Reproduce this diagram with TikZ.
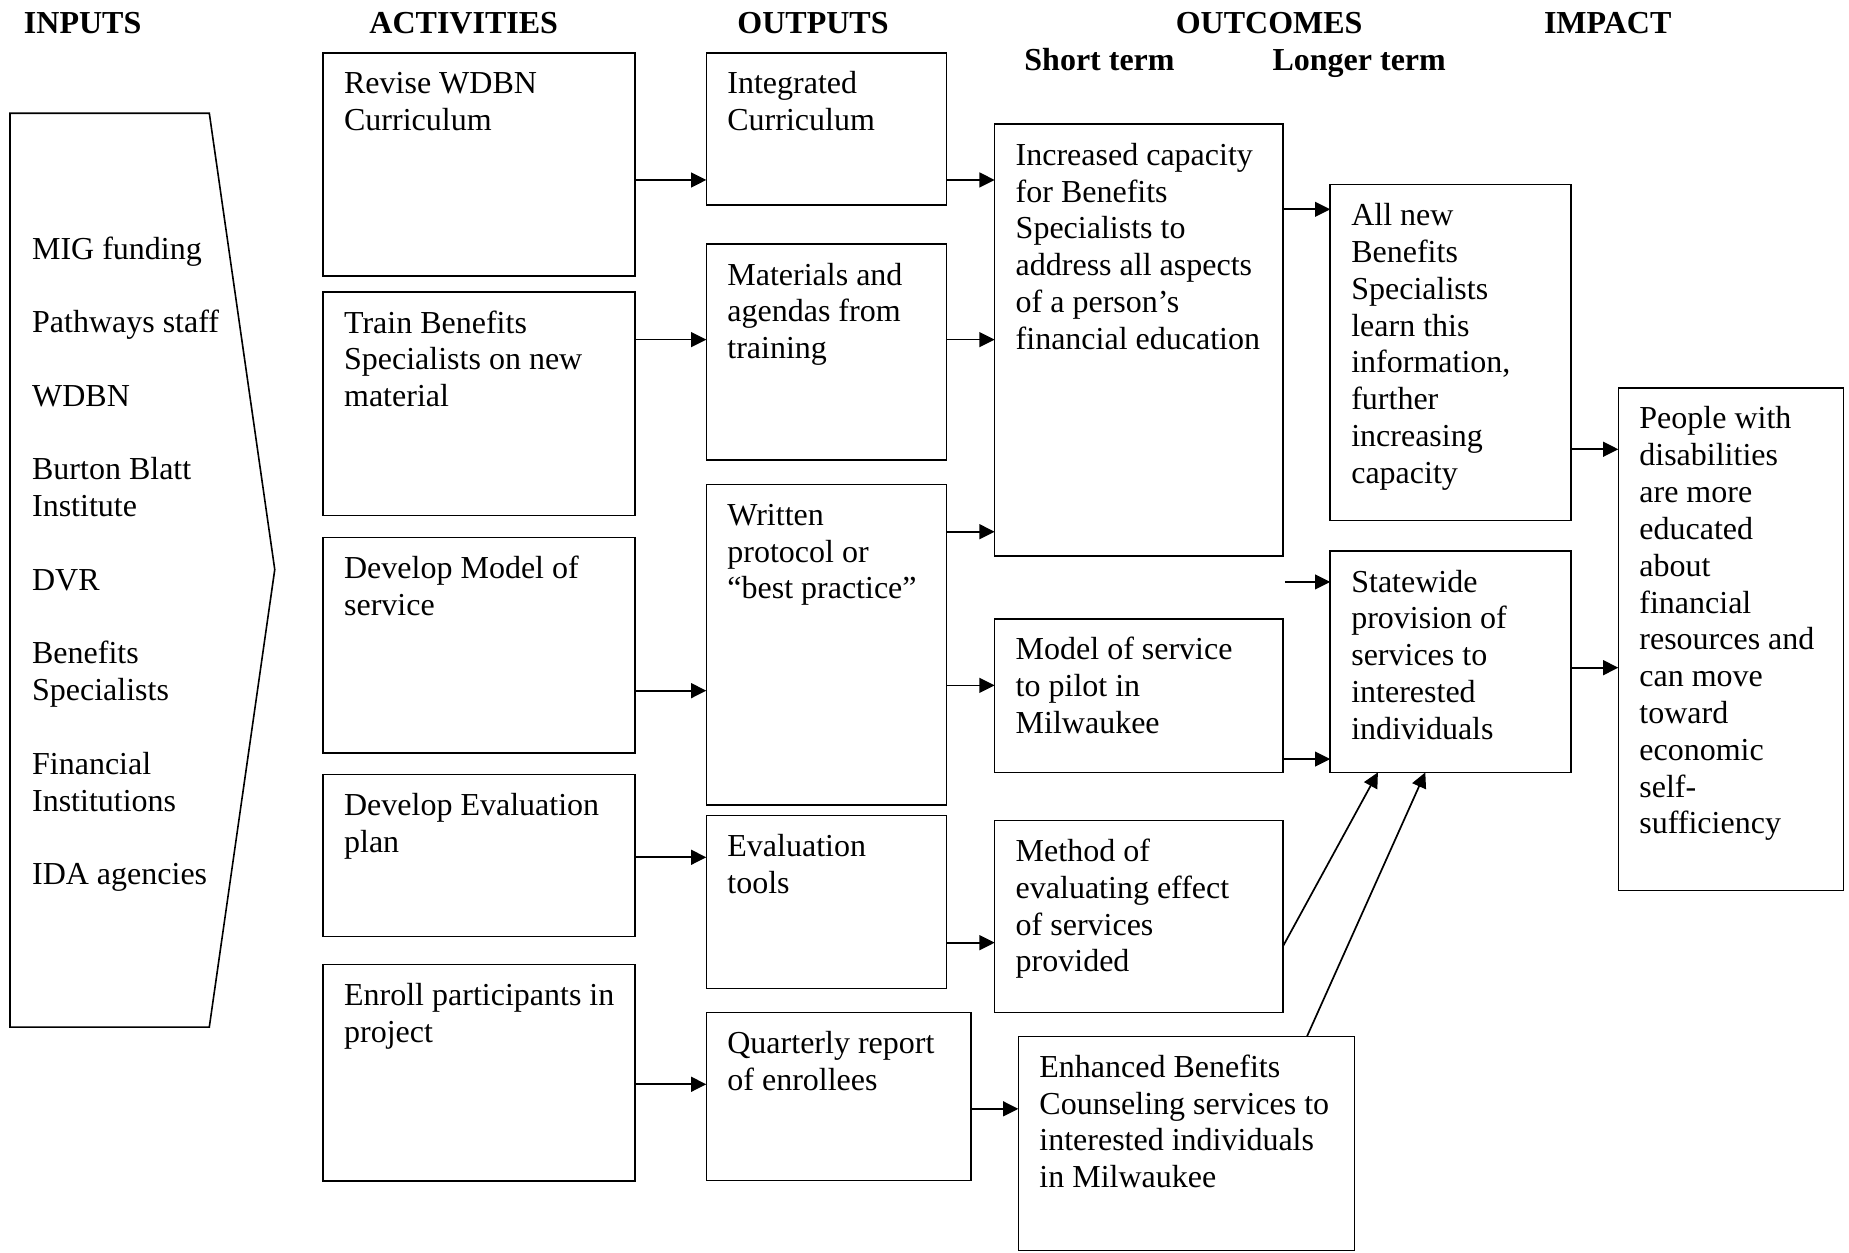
\documentclass[tikz,border=0pt]{standalone}
\usepackage{fontspec}
\setmainfont{Liberation Serif}
\usetikzlibrary{arrows.meta,calc}

% box with its text set in the upper left corner:
% name, left, top, right, bottom, text
\newcommand\lmbox[6]{%
  \node[box,minimum width={(#4-#2)*0.5896pt},minimum height={(#5-#3)*0.5896pt}] (#1) at (#2,#3) {};
  \node[txt] (#1t) at (#2+17.5,#3+12.6) {\strut#6};
}

\begin{document}
\begin{tikzpicture}[x=0.5896pt,y=-0.5896pt,
  box/.style={draw,line width=0.8pt,anchor=north west,inner sep=0pt,outer sep=0pt},
  txt/.style={anchor=north west,inner sep=0pt,align=left,font=\fontsize{16}{18.4}\selectfont},
  head/.style={anchor=base west,inner sep=0pt,font=\fontsize{16}{18.4}\selectfont\bfseries},
  arr/.style={line width=0.85pt,-{Triangle[length=7.6pt,width=7.4pt]}}]

\useasboundingbox (0,0) rectangle (1568,1062);

% column headings
\node[head] (hin)  at (20,28.3)    {INPUTS};
\node[head] (hact) at (313,28.3)   {ACTIVITIES};
\node[head] (hout) at (625,28.3)   {OUTPUTS};
\node[head] (hoc)  at (996.8,28.3) {OUTCOMES};
\node[head] (himp) at (1309,28.3)  {IMPACT};
\node[head] (hst)  at (868.4,60)   {Short term};
\node[head] (hlt)  at (1078.8,60)  {Longer term};

% inputs arrow shape
\draw[line width=0.8pt] (8.5,96) -- (177.5,96) -- (233,483) -- (177.5,871) -- (8.5,871) -- cycle;
\node[txt] (inputs) at (26.9,197.6) {\strut MIG funding\\[18.4pt]Pathways staff\\[18.4pt]WDBN\\[18.4pt]Burton Blatt\\Institute\\[18.4pt]DVR\\[18.4pt]Benefits\\Specialists\\[18.4pt]Financial\\Institutions\\[18.4pt]IDA agencies};

% activities
\lmbox{a1}{274}{44.7}{538.5}{233.8}{Revise WDBN\\Curriculum}
\lmbox{a2}{274}{247.6}{538.5}{437.3}{Train Benefits\\Specialists on new\\material}
\lmbox{a3}{274}{455.7}{538.5}{638.5}{Develop Model of\\service}
\lmbox{a4}{274}{656.9}{538.5}{794.3}{Develop Evaluation\\plan}
\lmbox{a5}{274}{817.8}{538.5}{1001.3}{Enroll participants in\\project}

% outputs
\lmbox{o1}{599}{44.7}{802.8}{173.8}{Integrated\\Curriculum}
\lmbox{o2}{599}{207}{802.8}{390}{Materials and\\agendas from\\training}
\lmbox{o3}{599}{410.7}{802.8}{682.7}{Written\\protocol or\\“best practice”}
\lmbox{o4}{599}{691.4}{802.8}{838.2}{Evaluation\\tools}
\lmbox{o5}{599}{858.5}{823.4}{1001}{Quarterly report\\of enrollees}

% short term outcomes
\lmbox{s1}{843.5}{105.4}{1087.8}{471.5}{Increased capacity\\for Benefits\\Specialists to\\address all aspects\\of a person’s\\financial education}
\lmbox{s2}{843.5}{524.7}{1087.8}{655}{Model of service\\to pilot in\\Milwaukee}
\lmbox{s3}{843.5}{695.8}{1087.8}{858.7}{Method of\\evaluating effect\\of services\\provided}
\lmbox{s4}{863.6}{878.8}{1148.5}{1060.6}{Enhanced Benefits\\Counseling services to\\interested individuals\\in Milwaukee}

% longer term outcomes
\lmbox{l1}{1128.1}{156.6}{1332.2}{441.5}{All new\\Benefits\\Specialists\\learn this\\information,\\further\\increasing\\capacity}
\lmbox{l2}{1128.1}{467.3}{1332.2}{655}{Statewide\\provision of\\services to\\interested\\individuals}

% impact
\lmbox{im}{1372.4}{329}{1563.2}{755}{People with\\disabilities\\are more\\educated\\about\\financial\\resources and\\can move\\toward\\economic\\self-\\sufficiency}

% activities to outputs
\draw[arr] (a1.east |- 0,152.6) -- (o1.west |- 0,152.6);
\draw[arr] (a2.east |- 0,288)   -- (o2.west |- 0,288);
\draw[arr] (a3.east |- 0,585.7) -- (o3.west |- 0,585.7);
\draw[arr] (a4.east |- 0,727)   -- (o4.west |- 0,727);
\draw[arr] (a5.east |- 0,919.5) -- (o5.west |- 0,919.5);

% outputs to short term outcomes
\draw[arr] (o1.east |- 0,152.6) -- (s1.west |- 0,152.6);
\draw[arr] (o2.east |- 0,288)   -- (s1.west |- 0,288);
\draw[arr] (o3.east |- 0,450.9) -- (s1.west |- 0,450.9);
\draw[arr] (o3.east |- 0,581.2) -- (s2.west |- 0,581.2);
\draw[arr] (o4.east |- 0,799.4) -- (s3.west |- 0,799.4);
\draw[arr] (o5.east |- 0,940.3) -- (s4.west |- 0,940.3);

% short term to longer term outcomes
\draw[arr] (s1.east |- 0,177.5) -- (l1.west |- 0,177.5);
\coordinate (free) at (1089.7,493.5);
\draw[arr] (free) -- (l2.west |- free);
\draw[arr] (s2.east |- 0,643.7) -- (l2.west |- 0,643.7);
\draw[arr] (s3.east |- 0,802.8) -- (l2.south -| 1168.5,0);
\draw[arr] (s4.north -| 1108.4,0) -- (l2.south -| 1208.7,0);

% longer term outcomes to impact
\draw[arr] (l1.east |- 0,381)   -- (im.west |- 0,381);
\draw[arr] (l2.east |- 0,566.2) -- (im.west |- 0,566.2);

\end{tikzpicture}
\end{document}
